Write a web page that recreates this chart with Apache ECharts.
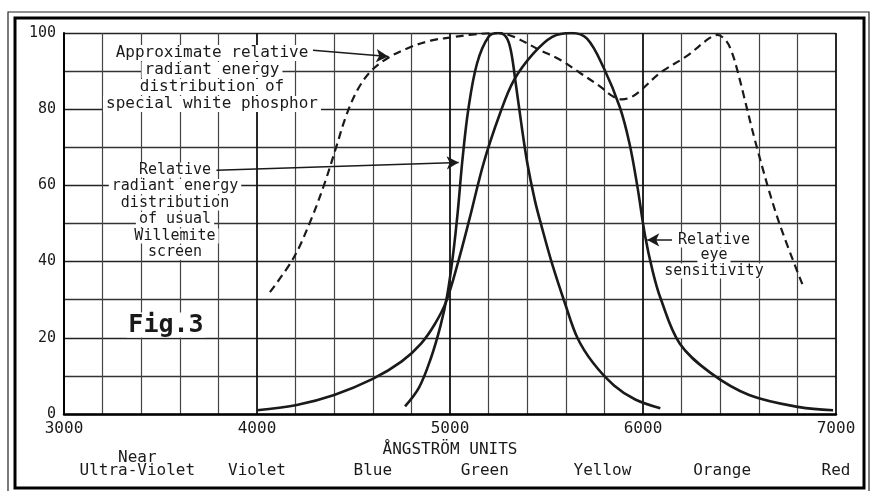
<!DOCTYPE html>
<html>
<head>
<meta charset="utf-8">
<script src="https://cdn.jsdelivr.net/npm/echarts@6/dist/echarts.min.js"></script>
<style>
html, body { margin: 0; padding: 0; background: #fff; }
#chart { width: 873px; height: 491px; }
</style>
</head>
<body>
<div id="chart"></div>
<script>
// wavelength axis (Angstrom) and relative value axis
const xTicks = [3000, 4000, 5000, 6000, 7000];
const yTicks = [0, 20, 40, 60, 80, 100];

// special white phosphor (dashed)
const phosphor = [
    [4067, 32], [4190, 41], [4280, 51], [4350, 60.5], [4410, 70], [4460, 78],
    [4520, 85], [4590, 90], [4680, 93.5], [4790, 96.2], [4900, 98], [5000, 98.8],
    [5100, 99.5], [5250, 100], [5330, 99], [5466, 95.5], [5570, 93], [5674, 89.5],
    [5777, 86], [5840, 83.5], [5890, 82.6], [5940, 83.2], [5990, 85], [6088, 89.5],
    [6228, 94], [6340, 98.5], [6385, 99.5], [6430, 98], [6460, 95], [6490, 90],
    [6590, 70], [6700, 51], [6830, 33.5]
];

// usual Willemite screen
const willemite = [
    [4767, 2], [4840, 7], [4900, 14.5], [4950, 23], [4985, 31], [5015, 41.5],
    [5040, 53], [5065, 67], [5095, 80], [5140, 92], [5200, 99], [5250, 100],
    [5290, 99], [5315, 95.5], [5340, 87], [5370, 76], [5400, 66], [5440, 56],
    [5476, 49], [5528, 39.6], [5596, 29], [5660, 20], [5740, 13.5], [5850, 7.5],
    [5960, 3.8], [6090, 1.5]
];

// relative eye sensitivity
const eye = [
    [4000, 1], [4200, 2.3], [4400, 5], [4600, 9.2], [4750, 13.8], [4850, 18.5],
    [4920, 23.5], [4980, 29.5], [5040, 39.5], [5100, 51], [5175, 66], [5260, 79],
    [5330, 87.5], [5430, 94.5], [5530, 99], [5630, 100], [5710, 98.5], [5795, 91],
    [5880, 80.5], [5930, 71], [5970, 60], [6010, 47], [6050, 37.5], [6090, 30.5],
    [6190, 18.5], [6350, 10.8], [6550, 5], [6810, 1.8], [6985, 1]
];

// colour bands under the axis
const bandNames = ['Ultra-Violet', 'Violet', 'Blue', 'Green', 'Yellow', 'Orange', 'Red'];
const bandCenters = [3380, 4000, 4600, 5180, 5790, 6410, 7000];

const ink = '#1a1a1a';
const mono = 'DejaVu Sans Mono';

let chart = echarts.init(document.getElementById('chart'));

let option = {
    backgroundColor: '#fff',
    animation: false,
    grid: {left: 64, right: 37, top: 33, bottom: 77},
    xAxis: {
        type: 'value',
        min: xTicks[0],
        max: xTicks[xTicks.length - 1],
        interval: 1000,
        name: 'ÅNGSTRÖM UNITS',
        nameLocation: 'middle',
        nameGap: 27,
        nameTextStyle: {color: ink, fontFamily: mono, fontSize: 16},
        axisLine: {lineStyle: {color: '#000', width: 2.5}},
        axisTick: {show: false},
        minorTick: {show: false, splitNumber: 5},
        axisLabel: {
            color: ink, fontFamily: mono, fontSize: 16, margin: 7,
            formatter: (v) => String(v)
        },
        splitLine: {show: true, lineStyle: {color: '#111', width: 1.8}},
        minorSplitLine: {show: true, lineStyle: {color: '#444', width: 1.2}}
    },
    yAxis: {
        type: 'value',
        min: yTicks[0],
        max: yTicks[yTicks.length - 1],
        interval: 20,
        axisLine: {show: true, lineStyle: {color: '#000', width: 2}},
        axisTick: {show: false},
        minorTick: {show: false, splitNumber: 2},
        axisLabel: {color: ink, fontFamily: mono, fontSize: 15, margin: 8},
        splitLine: {show: true, lineStyle: {color: '#222', width: 1.4}},
        minorSplitLine: {show: true, lineStyle: {color: '#333', width: 1.3}}
    },
    series: [
        {
            name: 'phosphor',
            type: 'line',
            data: phosphor,
            showSymbol: false,
            smooth: 0.35,
            lineStyle: {color: ink, width: 2.2, type: [8, 5]},
            z: 5,
            markLine: {
                silent: true,
                symbol: ['none', 'arrow'],
                symbolSize: [10, 12],
                label: {show: false},
                lineStyle: {color: ink, width: 1.5, type: 'solid', curveness: -0.15},
                data: [[{coord: [4290, 95.5]}, {coord: [4680, 93.8]}]]
            }
        },
        {
            name: 'willemite',
            type: 'line',
            data: willemite,
            showSymbol: false,
            smooth: 0.35,
            lineStyle: {color: ink, width: 2.6},
            z: 5,
            markLine: {
                silent: true,
                symbol: ['none', 'arrow'],
                symbolSize: [10, 12],
                label: {show: false},
                lineStyle: {color: ink, width: 1.5, type: 'solid'},
                data: [[{coord: [3790, 64]}, {coord: [5045, 66]}]]
            }
        },
        {
            name: 'eye',
            type: 'line',
            data: eye,
            showSymbol: false,
            smooth: 0.35,
            lineStyle: {color: ink, width: 2.6},
            z: 5,
            markLine: {
                silent: true,
                symbol: ['none', 'arrow'],
                symbolSize: [10, 12],
                label: {show: false},
                lineStyle: {color: ink, width: 1.5, type: 'solid'},
                data: [[{coord: [6150, 45.7]}, {coord: [6022, 45.7]}]]
            }
        }
    ]
};
chart.setOption(option);

// one text element per line so the grid shows on either side of short lines
function textBlock(lines, cx, y0, lh, font) {
    return lines.map((t, i) => ({
        type: 'text',
        x: cx,
        y: y0 + i * lh,
        z: 50,
        style: {
            text: t, font: font, fill: ink,
            align: 'center', verticalAlign: 'middle',
            backgroundColor: '#fff', padding: [0, 3]
        }
    }));
}

let graphics = [];
graphics = graphics.concat(textBlock(
    ['Approximate relative', 'radiant energy', 'distribution of', 'special white phosphor'],
    212, 53, 17, '16px ' + mono));
graphics = graphics.concat(textBlock(
    ['Relative', 'radiant energy', 'distribution', 'of usual', 'Willemite', 'screen'],
    175, 170, 16.5, '15px ' + mono));
graphics = graphics.concat(textBlock(
    ['Relative', 'eye', 'sensitivity'], 714, 240, 15.5, '15px ' + mono));
graphics.push({
    type: 'text', x: 166, y: 325, z: 50,
    style: {text: 'Fig.3', font: 'bold 25px ' + mono, fill: ink,
        align: 'center', verticalAlign: 'middle', backgroundColor: '#fff', padding: [0, 2]}
});

// band names under the wavelength axis
bandNames.forEach((name, i) => {
    let px = chart.convertToPixel({xAxisIndex: 0}, bandCenters[i]);
    graphics.push({
        type: 'text', x: px, y: 471,
        style: {text: name, font: '16px ' + mono, fill: ink, align: 'center', verticalAlign: 'middle'}
    });
});
graphics.push({
    type: 'text', x: chart.convertToPixel({xAxisIndex: 0}, bandCenters[0]), y: 458,
    style: {text: 'Near', font: '16px ' + mono, fill: ink, align: 'center', verticalAlign: 'middle'}
});

// double frame round the figure
graphics.push({
    type: 'rect', shape: {x: 8, y: 12, width: 861, height: 482},
    style: {fill: 'none', stroke: '#222', lineWidth: 1.2}
});
graphics.push({
    type: 'rect', shape: {x: 15, y: 18, width: 849, height: 470},
    style: {fill: 'none', stroke: '#000', lineWidth: 3}
});

chart.setOption({graphic: graphics});
</script>
</body>
</html>
